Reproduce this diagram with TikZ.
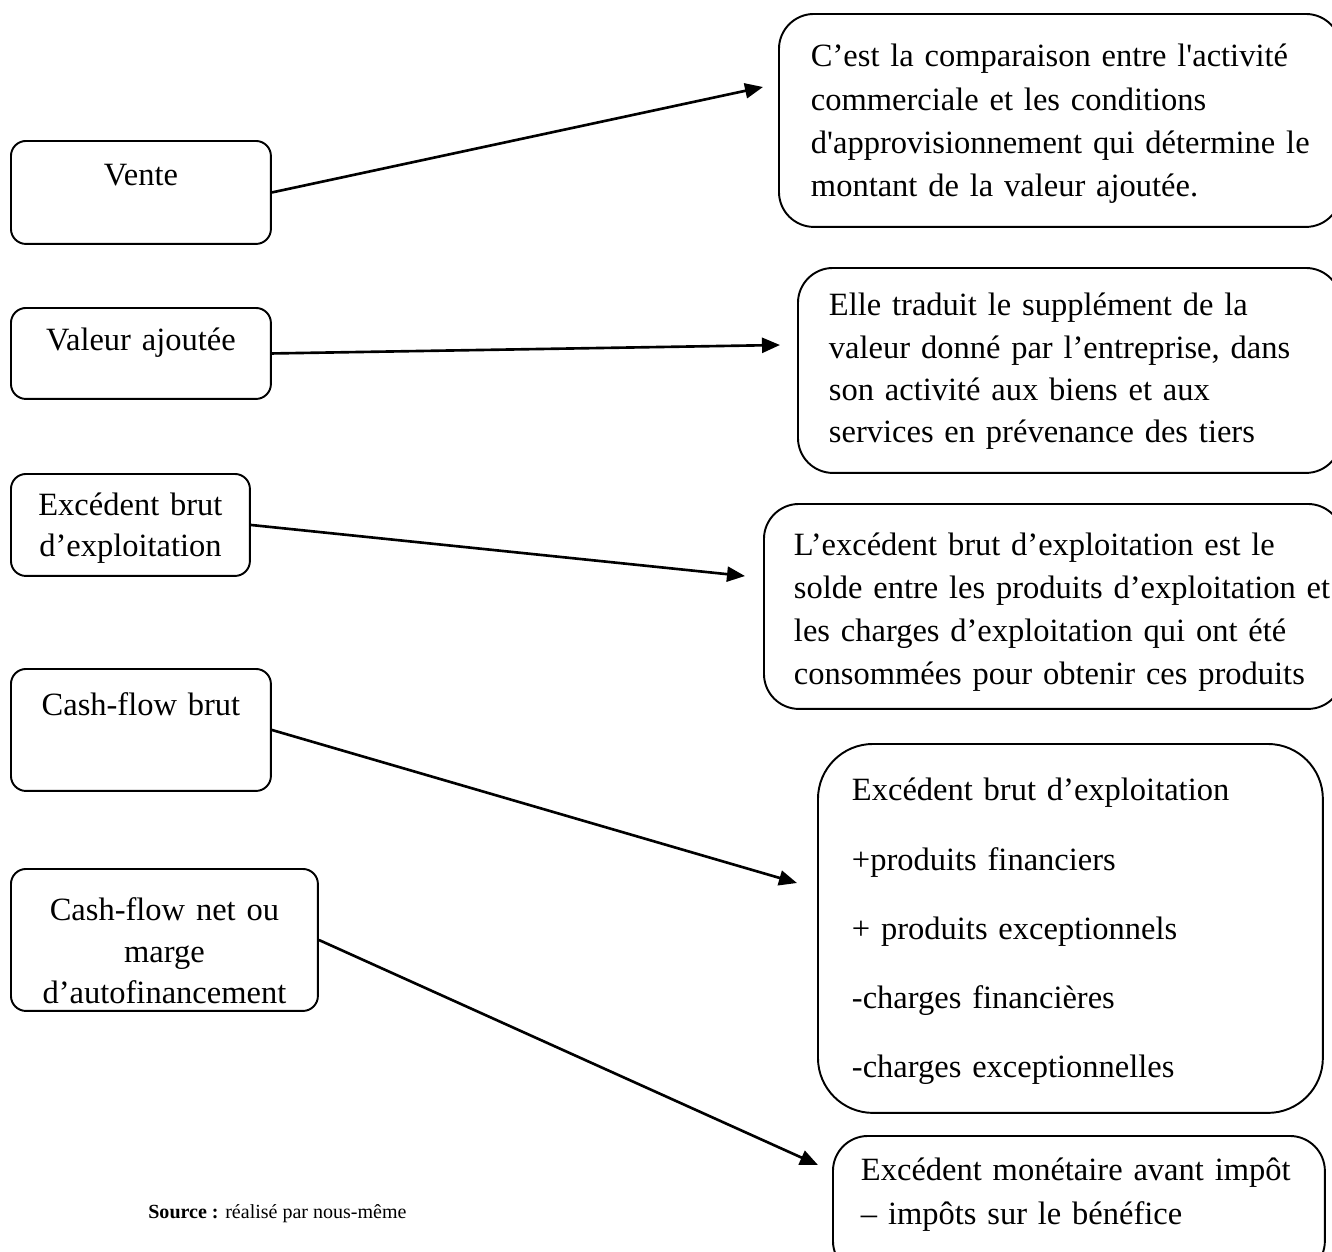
\documentclass[tikz,border=0pt]{standalone}
\usepackage{fontspec}
\setmainfont{Liberation Serif}
\usetikzlibrary{arrows.meta}

\begin{document}
\begin{tikzpicture}[
  x=0.02cm, y=-0.02cm,
  font=\fontsize{18.5}{23.5}\selectfont,
  lbox/.style={draw, line width=1.1pt, rounded corners=0.3cm, align=center, anchor=north west, inner xsep=0pt, inner ysep=0pt},
  rbox/.style={draw, line width=1.1pt, rounded corners=0.7cm, align=left, anchor=north west, inner sep=0pt, execute at begin node={\leftskip=#1}},
  arr/.style={-{Triangle[length=0.36cm, width=0.3cm]}, line width=1.5pt}
]
\useasboundingbox (0,0) rectangle (1332,1251);
\clip (0,0) rectangle (1332,1251);

% left column: the aggregates
\node[lbox, text width=5.2cm, text height=0.9cm, text depth=1.16cm] (vente) at (10,140) {Vente};
\node[lbox, text width=5.2cm, text height=0.86cm, text depth=0.96cm] (va) at (10,307) {Valeur ajoutée};
\node[lbox, text width=4.78cm, text height=0.84cm, text depth=1.2cm, font=\fontsize{18.5}{23.3}\selectfont] (ebe) at (10,473) {Excédent brut\\d’exploitation};
\node[lbox, text width=5.2cm, text height=0.94cm, text depth=1.5cm] (cfb) at (10,668) {Cash-flow brut};
\node[lbox, text width=6.14cm, text height=1.04cm, text depth=1.8cm] (cfn) at (10,868) {Cash-flow net ou\\marge\\d’autofinancement};

% right column: the definitions
\node[rbox=0.64cm, text width=11.24cm, text height=1.06cm, text depth=3.2cm, font=\fontsize{18.5}{24.5}\selectfont] (defvente) at (778,13)
  {C’est la comparaison entre l\textquotesingle activité\\commerciale et les conditions\\d\textquotesingle approvisionnement qui détermine le\\montant de la valeur ajoutée.};
\node[rbox=0.62cm, text width=10.86cm, text height=0.96cm, text depth=3.14cm, font=\fontsize{18.5}{24.1}\selectfont] (defva) at (797,267)
  {Elle traduit le supplément de la\\valeur donné par l’entreprise, dans\\son activité aux biens et aux\\services en prévenance des tiers};
\node[rbox=0.6cm, text width=11.58cm, text height=1.04cm, text depth=3.06cm, font=\fontsize{18.5}{24.3}\selectfont] (defebe) at (763,503)
  {L’excédent brut d’exploitation est le\\solde entre les produits d’exploitation et\\les charges d’exploitation qui ont été\\consommées pour obtenir ces produits};
\node[rbox=0.68cm, rounded corners=1.1cm, text width=10.1cm, text height=1.14cm, text depth=6.24cm, font=\fontsize{18.5}{39.3}\selectfont] (defcfb) at (817,743)
  {Excédent brut d’exploitation\\+produits financiers\\+ produits exceptionnels\\-charges financières\\-charges exceptionnelles};
\node[rbox=0.56cm, text width=9.84cm, text height=0.9cm, text depth=1.9cm, font=\fontsize{18.5}{24.5}\selectfont] (defcfn) at (832,1135)
  {Excédent monétaire avant impôt\\– impôts sur le bénéfice};

\node[anchor=base west, inner sep=0pt, font=\fontsize{11.4}{13.5}\selectfont] (source) at (148,1218) {\textbf{Source :} réalisé par nous-même};

% arrow tips stop short of the boxes
\coordinate (tipvente) at (763,87);
\coordinate (tipva) at (780,345);
\coordinate (tipebe) at (745,576);
\coordinate (tipcfb) at (797,883);
\coordinate (tipcfn) at (818,1165);

\draw[arr] (vente.east) -- (tipvente);
\draw[arr] (va.east) -- (tipva);
\draw[arr] (ebe.east) -- (tipebe);
\draw[arr] (cfb.east) -- (tipcfb);
\draw[arr] (cfn.east) -- (tipcfn);
\end{tikzpicture}
\end{document}
